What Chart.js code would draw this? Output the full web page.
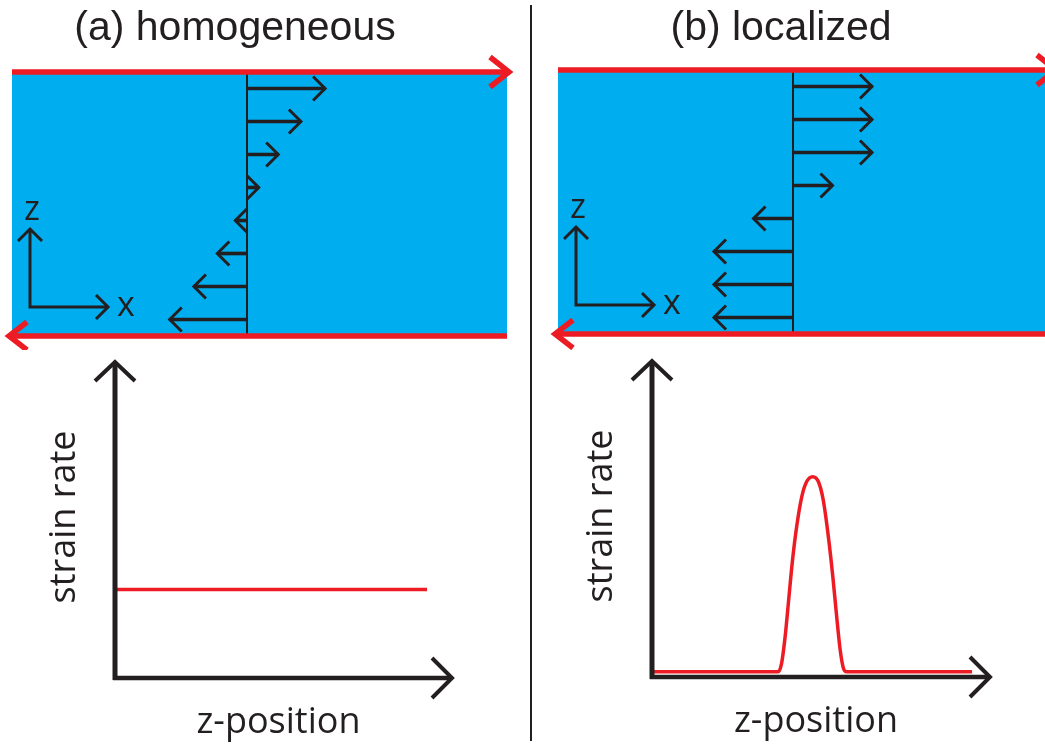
<!DOCTYPE html>
<html>
<head>
<meta charset="utf-8">
<script src="https://cdn.jsdelivr.net/npm/chart.js@4.4.0/dist/chart.umd.min.js"></script>
<style>
    html, body { margin: 0; padding: 0; background: #fff; overflow: hidden; }
    #page { position: relative; width: 1045px; height: 746px; overflow: hidden; }
    canvas { position: absolute; }
    #divider { position: absolute; left: 530px; top: 5px; width: 2px; height: 736px; background: #231f20; }
</style>
</head>
<body>
<div id="page">
    <canvas id="flowA" width="520" height="350" style="left:0;top:0"></canvas>
    <canvas id="flowB" width="530" height="350" style="left:540px;top:0"></canvas>
    <canvas id="rateA" width="520" height="396" style="left:0;top:350px"></canvas>
    <canvas id="rateB" width="520" height="396" style="left:540px;top:350px"></canvas>
    <div id="divider"></div>
</div>
<script>
(function(){
    "use strict";

    // layers of the sheared film, top to bottom
    const LAYERS = ['8', '7', '6', '5', '4', '3', '2', '1'];
    // velocity of each layer (top wall arrow = 1)
    const VEL_A = [1.0, 0.69, 0.40, 0.15, -0.15, -0.38, -0.68, -0.99];
    const VEL_B = [1.0, 1.0, 1.0, 0.5, -0.5, -1.0, -1.0, -1.0];

    // strain rate against z-position
    const Z_A = [0, 1];
    const RATE_A = [0.28, 0.28];
    const Z_B = [0, 0.395, 0.405, 0.416, 0.426, 0.438, 0.452, 0.468, 0.483, 0.502,
                 0.520, 0.535, 0.551, 0.565, 0.577, 0.588, 0.598, 0.608, 1.0];
    const RATE_B = [0.017, 0.017, 0.044, 0.128, 0.233, 0.360, 0.476, 0.571, 0.618, 0.634,
                    0.618, 0.560, 0.444, 0.317, 0.191, 0.085, 0.028, 0.017, 0.017];

    const BLUE = '#00aeef';
    const RED = '#ed1c24';
    const INK = '#231f20';
    const LABEL_FONT = '36px "Open Sans"';

    // open arrow head, tip at (x, y), pointing along angle ang
    function head(ctx, x, y, ang, back, half) {
        const ux = Math.cos(ang), uy = Math.sin(ang);
        const nx = -uy, ny = ux;
        ctx.beginPath();
        ctx.moveTo(x - back * ux + half * nx, y - back * uy + half * ny);
        ctx.lineTo(x, y);
        ctx.lineTo(x - back * ux - half * nx, y - back * uy - half * ny);
        ctx.stroke();
    }

    function line(ctx, x1, y1, x2, y2) {
        ctx.beginPath();
        ctx.moveTo(x1, y1);
        ctx.lineTo(x2, y2);
        ctx.stroke();
    }

    const shearCell = {
        id: 'shearCell',
        beforeDatasetsDraw(chart) {
            const a = chart.chartArea, ctx = chart.ctx;
            ctx.save();
            ctx.fillStyle = BLUE;
            ctx.fillRect(a.left, a.top, a.right - a.left, a.bottom - a.top);
            ctx.restore();
        },
        afterDatasetsDraw(chart, args, opts) {
            const a = chart.chartArea, ctx = chart.ctx;
            const x0 = chart.scales.x.getPixelForValue(0);
            ctx.save();
            ctx.strokeStyle = INK;
            ctx.lineCap = 'butt';

            // zero line
            ctx.lineWidth = 2;
            line(ctx, x0, a.top + 1, x0, a.bottom + 1);

            // heads on the velocity bars
            ctx.lineWidth = 3;
            ctx.lineJoin = 'miter';
            const meta = chart.getDatasetMeta(0);
            meta.data.forEach((bar, i) => {
                const v = chart.data.datasets[0].data[i];
                head(ctx, bar.x, bar.y, v >= 0 ? 0 : Math.PI, 12, 12);
            });

            // moving walls
            ctx.strokeStyle = RED;
            ctx.lineWidth = 5.5;
            line(ctx, a.left, a.top, a.right, a.top);
            head(ctx, a.right + 2, a.top, 0, 19, 15);
            line(ctx, a.left - 2, a.bottom, a.right, a.bottom);
            head(ctx, a.left - 3, a.bottom, Math.PI, 18, 14);

            // x / z frame
            const ox = a.left + 18, oy = a.bottom - 29;
            ctx.strokeStyle = INK;
            ctx.lineWidth = 3;
            ctx.beginPath();
            ctx.moveTo(ox, oy - 78);
            ctx.lineTo(ox, oy);
            ctx.lineTo(ox + 78, oy);
            ctx.stroke();
            head(ctx, ox, oy - 78, -Math.PI / 2, 12, 12);
            head(ctx, ox + 78, oy, 0, 12, 12);

            ctx.fillStyle = INK;
            ctx.font = '34px "Open Sans"';
            ctx.textAlign = 'center';
            ctx.textBaseline = 'alphabetic';
            ctx.fillText('z', ox + 2, oy - 87);
            ctx.fillText('x', ox + 96, oy + 9);

            // panel title
            ctx.font = '41px "Liberation Sans"';
            ctx.fillText(opts.title, x0 - 12, 40);
            ctx.restore();
        }
    };

    const rateAxes = {
        id: 'rateAxes',
        afterDatasetsDraw(chart) {
            const a = chart.chartArea, ctx = chart.ctx;
            ctx.save();
            ctx.strokeStyle = INK;
            ctx.lineJoin = 'miter';
            ctx.lineWidth = 5;
            line(ctx, a.left, a.bottom + 2, a.left, a.top + 1);
            ctx.lineWidth = 4.5;
            line(ctx, a.left - 2, a.bottom, a.right - 1, a.bottom);
            ctx.lineWidth = 4;
            head(ctx, a.left, a.top, -Math.PI / 2, 19, 20);
            head(ctx, a.right, a.bottom, 0, 20, 20);

            ctx.fillStyle = INK;
            ctx.font = LABEL_FONT;
            ctx.textAlign = 'center';
            ctx.textBaseline = 'alphabetic';
            ctx.fillText('z-position', (a.left + a.right) / 2 - 5, a.bottom + 55);
            ctx.translate(a.left - 40, (a.top + a.bottom) / 2 - 3);
            ctx.rotate(-Math.PI / 2);
            ctx.fillText('strain rate', 0, 0);
            ctx.restore();
        }
    };

    function createFlowChart(id, values, xMin, xMax, padding, title) {
        return new Chart(document.getElementById(id), {
            type: 'bar',
            data: {
                labels: LAYERS,
                datasets: [{
                    data: values,
                    backgroundColor: INK,
                    borderWidth: 0,
                    barThickness: 3
                }]
            },
            options: {
                indexAxis: 'y',
                responsive: false,
                animation: false,
                events: [],
                layout: { padding: padding },
                scales: {
                    x: { type: 'linear', min: xMin, max: xMax, display: false },
                    y: { type: 'category', display: false }
                },
                plugins: {
                    legend: { display: false },
                    tooltip: { enabled: false },
                    shearCell: { title: title }
                }
            },
            plugins: [shearCell]
        });
    }

    function createRateChart(id, zs, rates, xMax, padding) {
        return new Chart(document.getElementById(id), {
            type: 'line',
            data: {
                datasets: [{
                    data: zs.map((z, i) => ({ x: z, y: rates[i] })),
                    borderColor: RED,
                    borderWidth: 3.5,
                    pointRadius: 0,
                    cubicInterpolationMode: 'monotone',
                    fill: false
                }]
            },
            options: {
                responsive: false,
                animation: false,
                events: [],
                layout: { padding: padding },
                scales: {
                    x: { type: 'linear', min: 0, max: xMax, display: false },
                    y: { type: 'linear', min: 0, max: 1, display: false }
                },
                plugins: {
                    legend: { display: false },
                    tooltip: { enabled: false }
                }
            },
            plugins: [rateAxes]
        });
    }

    function init() {
        createFlowChart('flowA', VEL_A, -3.01, 3.33,
            { left: 12, right: 13, top: 72, bottom: 14 }, '(a) homogeneous');
        createFlowChart('flowB', VEL_B, -2.975, 3.304,
            { left: 18, right: 16, top: 70, bottom: 16 }, '(b) localized');
        createRateChart('rateA', Z_A, RATE_A, 1.08,
            { left: 115, right: 68, top: 12, bottom: 68 });
        createRateChart('rateB', Z_B, RATE_B, 1.056,
            { left: 112, right: 70, top: 11, bottom: 69 });
    }

    init();
})();
</script>
</body>
</html>
